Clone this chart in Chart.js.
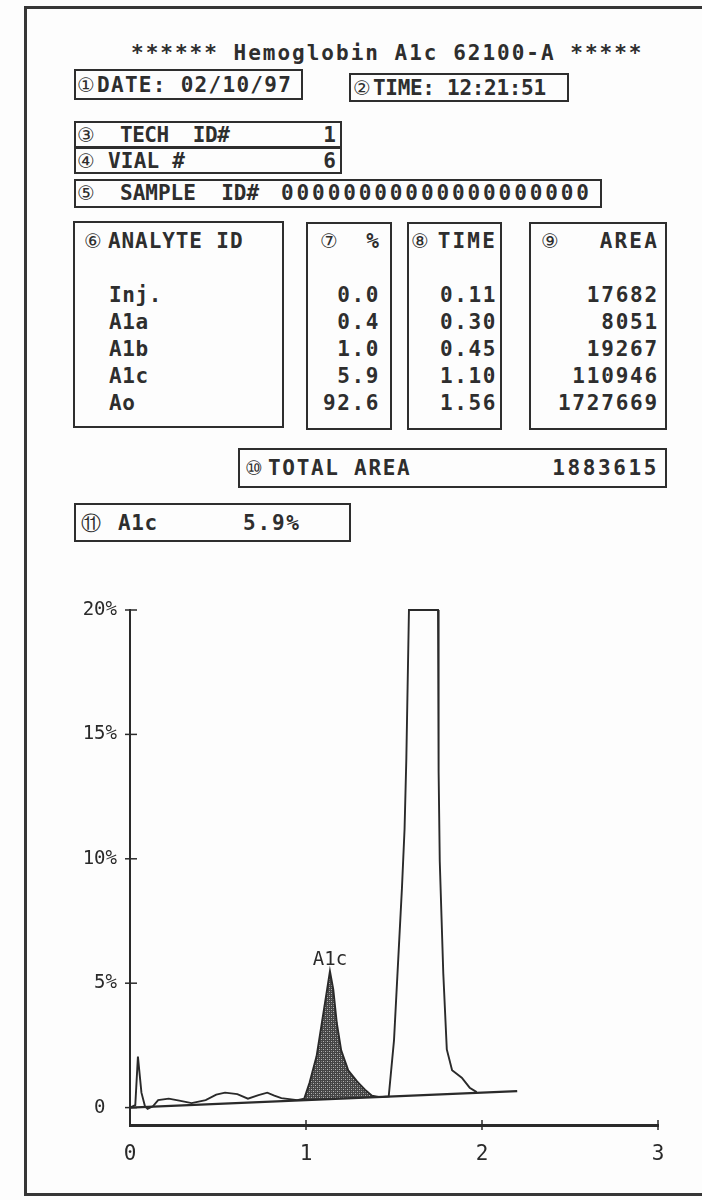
<!DOCTYPE html>
<html>
<head>
<meta charset="utf-8">
<script src="https://cdn.jsdelivr.net/npm/chart.js@4.4.1/dist/chart.umd.min.js"></script>
<style>
  html, body { margin: 0; padding: 0; background: #fff; }
  #page { position: relative; width: 702px; height: 1200px; overflow: hidden; background: #fdfdfd;
          font-family: 'DejaVu Sans Mono', monospace; font-weight: bold; color: #2e2e2e; font-size: 21px; }
  .frame { position: absolute; left: 24px; top: 6px; width: 700px; height: 1190px;
           border: 3px solid #363636; border-right: none; box-sizing: border-box; }
  .box { position: absolute; border: 2px solid #2e2e2e; box-sizing: border-box; }
  .t { position: absolute; height: 24px; line-height: 24px; white-space: pre; letter-spacing: 1px; }
  .r { text-align: right; }
  .c { font-family: 'DejaVu Sans', sans-serif; font-weight: normal; font-size: 20px; letter-spacing: 0; color: #2e2e2e; }
  #chartWrap { position: absolute; left: 0; top: 570px; width: 702px; height: 620px; }
</style>
</head>
<body>
<div id="page">
  <div class="frame"></div>
  <div id="labels"></div>
  <div id="chartWrap"><canvas id="hbChart" width="702" height="620"></canvas></div>
</div>
<script>
// run header
const titleText = '****** Hemoglobin A1c 62100-A *****';
const runDate = '02/10/97';
const runTime = '12:21:51';
const techId = '1';
const vialNo = '6';
const sampleId = '00000000000000000000';

// peak table
const analytes = ['Inj.', 'A1a', 'A1b', 'A1c', 'Ao'];
const percents = ['0.0', '0.4', '1.0', '5.9', '92.6'];
const retTimes = ['0.11', '0.30', '0.45', '1.10', '1.56'];
const areas = ['17682', '8051', '19267', '110946', '1727669'];
const totalArea = '1883615';
const a1cResult = '5.9%';

// chromatogram trace (time in min, signal in %)
const traceTimes = [0.00, 0.03, 0.045, 0.065, 0.085, 0.10, 0.13, 0.16, 0.22, 0.28, 0.35, 0.43, 0.49, 0.54,
  0.61, 0.67, 0.73, 0.78, 0.82, 0.86, 0.95, 0.99, 1.02, 1.06, 1.09, 1.12, 1.136, 1.155, 1.175, 1.20,
  1.24, 1.29, 1.335, 1.375, 1.42, 1.47, 1.50, 1.545, 1.56, 1.57, 1.585, 1.75, 1.752, 1.755, 1.76,
  1.78, 1.80, 1.83, 1.885, 1.93, 1.97];
const traceValues = [0.00, 0.10, 2.05, 0.60, 0.05, -0.05, 0.05, 0.30, 0.36, 0.28, 0.18, 0.30, 0.52, 0.60,
  0.54, 0.36, 0.50, 0.60, 0.48, 0.38, 0.30, 0.36, 1.00, 2.06, 3.40, 4.75, 5.48, 4.75, 3.40, 2.30,
  1.50, 1.05, 0.72, 0.48, 0.42, 0.45, 2.70, 8.80, 11.2, 14.0, 20.0, 20.0, 18.9, 13.5, 9.9,
  5.40, 2.34, 1.50, 1.20, 0.80, 0.62];
const baselineTimes = [0.0, 2.2];
const baselineValues = [0.0, 0.66];
const a1cWindow = [0.97, 1.42];
const a1cLabel = 'A1c';

// axes
const xTickValues = [0, 1, 2, 3];
const xTickLabels = ['0', '1', '2', '3'];
const yTickValues = [0, 5, 10, 15, 20];
const yTickLabels = ['0 ', '5%', '10%', '15%', '20%'];

const ink = '#2a2a2a';

function addText(txt, x, cy, opts = {}) {
  const el = document.createElement('div');
  el.className = 't' + (opts.right ? ' r' : '') + (opts.circ ? ' c' : '');
  el.textContent = txt;
  el.style.top = (cy - 12) + 'px';
  if (opts.right) { el.style.right = (702 - x) + 'px'; } else { el.style.left = x + 'px'; }
  if (opts.ls !== undefined) el.style.letterSpacing = opts.ls + 'px';
  if (opts.size) el.style.fontSize = opts.size + 'px';
  document.getElementById('labels').appendChild(el);
}

function addBox(l, t, w, h) {
  const el = document.createElement('div');
  el.className = 'box';
  Object.assign(el.style, { left: l + 'px', top: t + 'px', width: w + 'px', height: h + 'px' });
  document.getElementById('labels').appendChild(el);
}

function buildHeader() {
  addText(titleText, 131, 53, { ls: 2.0 });

  addBox(74, 69, 229, 31);
  addText('①', 77, 85, { circ: true });
  addText('DATE: ' + runDate, 97, 85, { ls: 1.3 });
  addBox(349, 73, 220, 29);
  addText('②', 353, 88, { circ: true });
  addText('TIME: ' + runTime, 373, 88, { ls: -0.3 });

  addBox(74, 121, 268, 27);
  addText('③', 77, 135, { circ: true });
  addText('TECH  ID#', 120, 135, { ls: -0.5 });
  addText(techId, 336, 135, { right: true, ls: 0 });
  addBox(74, 147, 268, 27);
  addText('④', 77, 161, { circ: true });
  addText('VIAL #', 108, 161, { ls: 0.2 });
  addText(vialNo, 336, 161, { right: true, ls: 0 });
  addBox(74, 179, 528, 29);
  addText('⑤', 77, 193, { circ: true });
  addText('SAMPLE  ID#', 120, 193, { ls: 0 });
  addText(sampleId, 281, 193, { ls: 2.9 });
}

function buildTable() {
  addBox(73, 221, 211, 207);
  addBox(306, 222, 86, 208);
  addBox(407, 222, 95, 208);
  addBox(529, 222, 138, 208);
  addText('⑥', 84, 241, { circ: true });
  addText('ANALYTE ID', 108, 241, { ls: 0.9 });
  addText('⑦', 320, 241, { circ: true });
  addText('%', 379, 241, { right: true, ls: 0 });
  addText('⑧', 411, 241, { circ: true });
  addText('TIME', 497, 241, { right: true, ls: 2.2 });
  addText('⑨', 541, 241, { circ: true });
  addText('AREA', 659, 241, { right: true, ls: 2.2 });

  analytes.forEach((a, i) => {
    const cy = 295 + i * 27;
    addText(a, 109, cy, { ls: 0.6 });
    addText(percents[i], 380, cy, { right: true, ls: 1.6 });
    addText(retTimes[i], 497, cy, { right: true, ls: 1.6 });
    addText(areas[i], 659, cy, { right: true, ls: 1.8 });
  });

  addBox(238, 448, 429, 40);
  addText('⑩', 245, 468, { circ: true });
  addText('TOTAL AREA', 268, 468, { ls: 1.7 });
  addText(totalArea, 659, 468, { right: true, ls: 2.6 });

  addBox(74, 503, 277, 39);
  addText('⑪', 81, 523, { circ: true });
  addText('A1c', 118, 523, { ls: 0.6 });
  addText(a1cResult, 243, 523, { ls: 1.8 });
}

function makeStipple(ctx) {
  const c = document.createElement('canvas');
  c.width = 4; c.height = 4;
  const g = c.getContext('2d');
  g.fillStyle = '#444';
  g.fillRect(0, 0, 4, 4);
  g.fillStyle = '#b4b4b4';
  g.fillRect(1, 1, 1, 1);
  g.fillRect(3, 3, 1, 1);
  g.fillStyle = '#7a7a7a';
  g.fillRect(3, 1, 1, 1);
  g.fillRect(1, 3, 1, 1);
  return ctx.createPattern(c, 'repeat');
}

const axisMarks = {
  id: 'axisMarks',
  afterDraw(chart) {
    const { ctx, scales: { x, y } } = chart;
    ctx.save();
    ctx.strokeStyle = ink;
    ctx.lineWidth = 1.5;
    yTickValues.forEach(v => {
      const py = y.getPixelForValue(v);
      ctx.beginPath();
      ctx.moveTo(x.left - 5, py);
      ctx.lineTo(x.left + 7, py);
      ctx.stroke();
    });
    xTickValues.slice(1).forEach(v => {
      const px = x.getPixelForValue(v);
      ctx.beginPath();
      ctx.moveTo(px, y.bottom - 5);
      ctx.lineTo(px, y.bottom + 5);
      ctx.stroke();
    });
    // label over the A1c peak
    let k = 0;
    traceTimes.forEach((t, i) => {
      if (t >= a1cWindow[0] && t <= a1cWindow[1] && traceValues[i] > traceValues[k]) k = i;
    });
    ctx.fillStyle = ink;
    ctx.font = '19px "DejaVu Sans Mono"';
    ctx.textAlign = 'center';
    ctx.textBaseline = 'bottom';
    ctx.fillText(a1cLabel, x.getPixelForValue(traceTimes[k]), y.getPixelForValue(traceValues[k]) - 2);
    ctx.restore();
  }
};

function renderChart() {
  const canvas = document.getElementById('hbChart');
  const ctx = canvas.getContext('2d');
  const trace = traceTimes.map((t, i) => ({ x: t, y: traceValues[i] }));
  const baseline = baselineTimes.map((t, i) => ({ x: t, y: baselineValues[i] }));
  const a1cPeak = trace.filter(p => p.x >= a1cWindow[0] && p.x <= a1cWindow[1]);

  new Chart(canvas, {
    type: 'line',
    data: {
      datasets: [
        { label: 'baseline', data: baseline, borderColor: ink, borderWidth: 2.4, pointRadius: 0, fill: false, order: 2 },
        { label: 'A1c', data: a1cPeak, borderWidth: 0, borderColor: 'rgba(0,0,0,0)', pointRadius: 0,
          backgroundColor: makeStipple(ctx), fill: 0, order: 3 },
        { label: 'trace', data: trace, borderColor: ink, borderWidth: 1.9, pointRadius: 0, fill: false,
          tension: 0, clip: 4, order: 1 }
      ]
    },
    options: {
      responsive: false,
      animation: false,
      devicePixelRatio: 1,
      layout: { padding: { left: 0, right: 44, top: 40, bottom: 0 } },
      plugins: { legend: { display: false }, tooltip: { enabled: false } },
      scales: {
        x: {
          type: 'linear', min: 0, max: 3,
          grid: { display: false },
          border: { display: true, color: ink, width: 3 },
          afterBuildTicks: s => { s.ticks = xTickValues.map(v => ({ value: v })); },
          afterFit: s => { s.height = 65; },
          ticks: {
            padding: 9, color: ink, font: { family: 'DejaVu Sans Mono', size: 21 },
            callback: (v, i) => xTickLabels[i]
          }
        },
        y: {
          type: 'linear', min: -0.7, max: 20,
          grid: { display: false },
          border: { display: true, color: ink, width: 2 },
          afterBuildTicks: s => { s.ticks = yTickValues.map(v => ({ value: v })); },
          afterFit: s => { s.width = 130; },
          ticks: {
            padding: 5, color: ink, font: { family: 'DejaVu Sans Mono', size: 19 },
            callback: (v, i) => yTickLabels[i]
          }
        }
      }
    },
    plugins: [axisMarks]
  });
}

buildHeader();
buildTable();
renderChart();
</script>
</body>
</html>
